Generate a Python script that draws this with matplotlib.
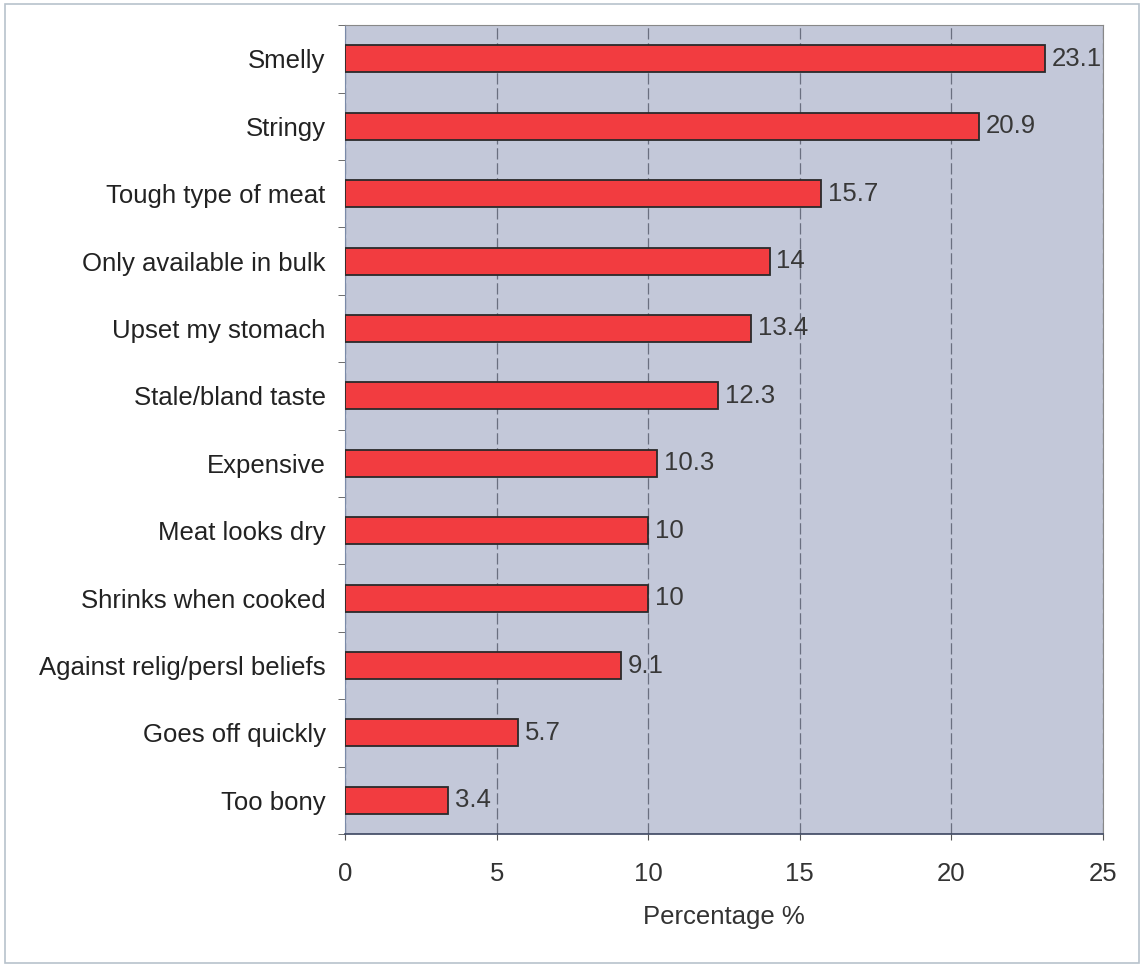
import matplotlib.pyplot as plt
from matplotlib.patches import Rectangle

plt.rcParams['font.family'] = ['Liberation Sans', 'DejaVu Sans']

# Reasons given, top to bottom
reasons = ['Smelly', 'Stringy', 'Tough type of meat', 'Only available in bulk',
           'Upset my stomach', 'Stale/bland taste', 'Expensive', 'Meat looks dry',
           'Shrinks when cooked', 'Against relig/persl beliefs', 'Goes off quickly',
           'Too bony']
percent = [23.1, 20.9, 15.7, 14, 13.4, 12.3, 10.3, 10, 10, 9.1, 5.7, 3.4]
value_labels = ['23.1', '20.9', '15.7', '14', '13.4', '12.3', '10.3', '10', '10',
                '9.1', '5.7', '3.4']

fig = plt.figure(figsize=(11.44, 9.67), dpi=100)
ax = fig.add_axes([0.3016, 0.1375, 0.6626, 0.8365])
ax.set_facecolor('#c3c8d9')

fs = 18.5
ypos = list(range(len(reasons)))
ax.barh(ypos, percent, height=0.4, color='#f23c40', edgecolor='#2a2a2a',
        linewidth=1.3, zorder=3)

for y, v, lab in zip(ypos, percent, value_labels):
    ax.text(v + 0.22, y, lab, va='center', ha='left', fontsize=fs,
            color='#383838', zorder=4)

ax.set_xlim(0, 25)
ax.set_ylim(len(reasons) - 0.5, -0.5)
ax.set_xticks([0, 5, 10, 15, 20, 25])
ax.tick_params(axis='x', labelsize=fs, colors='#333333', length=4, pad=16,
               color='#555555')
ax.set_yticks(ypos)
ax.set_yticklabels(reasons, fontsize=fs, color='#222222')
ax.tick_params(axis='y', length=0, pad=14)
# small ticks on the category boundaries
ax.set_yticks([i - 0.5 for i in range(len(reasons) + 1)], minor=True)
ax.tick_params(axis='y', which='minor', length=5, color='#555555')

ax.grid(axis='x', linestyle=(0, (9, 3)), color='#6a6f80', linewidth=0.9, zorder=1)
ax.set_axisbelow(True)

for side in ['top', 'right']:
    ax.spines[side].set_color('#888888')
    ax.spines[side].set_linewidth(0.8)
ax.spines['left'].set_color('#7a8aa8')
ax.spines['bottom'].set_color('#3c4660')
ax.spines['bottom'].set_linewidth(1.2)

ax.set_xlabel('Percentage %', fontsize=fs, color='#333333', labelpad=14)

# thin frame round the whole chart
fig.patches.append(Rectangle((0.004, 0.004), 0.992, 0.992, transform=fig.transFigure,
                             fill=False, edgecolor='#b8c2cc', linewidth=1.2))

fig.savefig('out.png', dpi=100, facecolor='white')
